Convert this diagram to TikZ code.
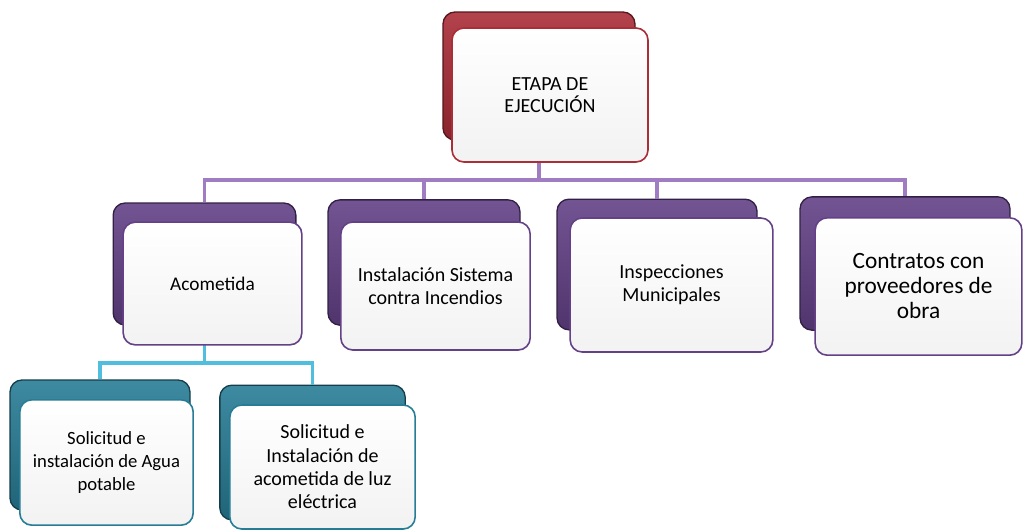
\documentclass[tikz,border=0pt]{standalone}
\usepackage{fontspec}
\setmainfont{Carlito}
\definecolor{redplate}{RGB}{170, 45, 55}
\definecolor{purpleplate}{RGB}{100, 65, 135}
\definecolor{tealplate}{RGB}{40, 125, 150}
\definecolor{purpleline}{RGB}{160, 125, 195}
\definecolor{cyanline}{RGB}{80, 190, 220}
\usetikzlibrary{positioning, calc}

\begin{document}
\begin{tikzpicture}[
  x=0.75pt, y=-0.75pt,
  backplate/.style={rounded corners=9pt, draw=#1!50!black, line width=1pt, top color=#1!90, bottom color=#1!80!black, inner sep=0pt},
  frontbox/.style={rounded corners=9pt, draw=#1, line width=1.2pt, top color=white, bottom color=gray!10, align=center, inner sep=2pt, font=\fontsize{15}{17.5}\selectfont},
  bus/.style={draw=#1, line width=2.8pt}
]
  \useasboundingbox (0,0) rectangle (1023,529);

  % back plates
  \node[backplate=redplate, minimum width=144pt, minimum height=96pt] (topB) at (539,76) {};
  \node[backplate=purpleplate, minimum width=137pt, minimum height=91.5pt] (acoB) at (204.5,264) {};
  \node[backplate=purpleplate, minimum width=144pt, minimum height=94pt] (insB) at (424,262.5) {};
  \node[backplate=purpleplate, minimum width=150pt, minimum height=98pt] (munB) at (657,264.5) {};
  \node[backplate=purpleplate, minimum width=157.5pt, minimum height=100pt] (conB) at (905,263.5) {};
  \node[backplate=tealplate, minimum width=135pt, minimum height=97.5pt] (aguaB) at (100,445) {};
  \node[backplate=tealplate, minimum width=139pt, minimum height=101pt] (luzB) at (312.5,452.5) {};

  % connectors
  \coordinate (busTop) at (539,180);
  \coordinate (busAco) at (204.5,363);
  \draw[bus=purpleline] (topB.south) -- (busTop);
  \draw[bus=purpleline] (acoB.north) |- (busTop) -| (conB.north);
  \draw[bus=purpleline] (insB.north) -- (insB.north |- busTop);
  \draw[bus=purpleline] (munB.north) -- (munB.north |- busTop);
  \draw[bus=cyanline] (acoB.south) -- (busAco);
  \draw[bus=cyanline] (aguaB.north) |- (busAco) -| (luzB.north);

  % front boxes
  \node[frontbox=redplate, minimum width=147pt, minimum height=100.5pt, font=\fontsize{15}{16.5}\selectfont] (top) at (550,95) {ETAPA DE\\EJECUCIÓN};
  \node[frontbox=purpleplate, minimum width=134pt, minimum height=92pt, font=\fontsize{14.5}{17.5}\selectfont] (aco) at (212.5,283.5) {Acometida};
  \node[frontbox=purpleplate, minimum width=142pt, minimum height=96pt] (ins) at (435.5,286) {Instalación Sistema\\contra Incendios};
  \node[frontbox=purpleplate, minimum width=152pt, minimum height=100.5pt] (mun) at (671.5,285) {Inspecciones\\Municipales};
  \node[frontbox=purpleplate, minimum width=155pt, minimum height=103pt, font=\fontsize{17.5}{18.75}\selectfont] (con) at (918.5,286.5) {Contratos con\\proveedores de\\obra};
  \node[frontbox=tealplate, minimum width=130pt, minimum height=94pt, font=\fontsize{14}{17.5}\selectfont] (agua) at (106.5,462.5) {Solicitud e\\instalación de Agua\\potable};
  \node[frontbox=tealplate, minimum width=139pt, minimum height=93pt] (luz) at (322.5,467) {Solicitud e\\Instalación de\\acometida de luz\\eléctrica};
\end{tikzpicture}
\end{document}
